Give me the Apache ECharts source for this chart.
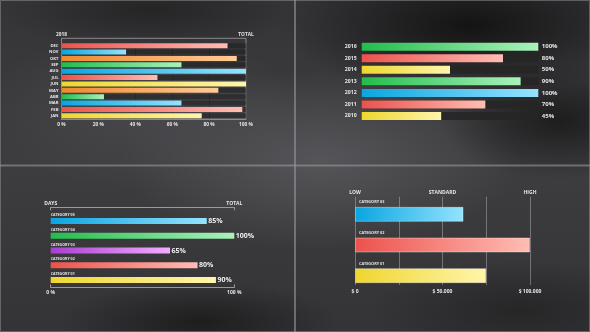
<!DOCTYPE html>
<html><head><meta charset="utf-8">
<script src="https://cdn.jsdelivr.net/npm/echarts@6/dist/echarts.min.js"></script>
<style>
html,body{margin:0;padding:0;width:590px;height:332px;overflow:hidden;background:#333;}
#c{width:590px;height:332px;
background:
 radial-gradient(ellipse 190px 70px at 470px 25px, rgba(18,18,18,0.95), rgba(18,18,18,0)),
 radial-gradient(ellipse 120px 60px at 560px 120px, rgba(22,22,22,0.8), rgba(22,22,22,0)),
 radial-gradient(ellipse 150px 40px at 150px 10px, rgba(30,30,30,0.7), rgba(30,30,30,0)),
 radial-gradient(ellipse 140px 40px at 200px 322px, rgba(24,24,24,0.8), rgba(24,24,24,0)),
 radial-gradient(ellipse 150px 50px at 520px 310px, rgba(28,28,28,0.6), rgba(28,28,28,0)),
 radial-gradient(ellipse 200px 90px at 320px 160px, rgba(88,88,92,0.9), rgba(88,88,92,0)),
 radial-gradient(ellipse 160px 80px at 140px 110px, rgba(74,74,78,0.85), rgba(74,74,78,0)),
 linear-gradient(180deg,#353538 0%,#3d3d40 50%,#343437 100%);
}
</style></head><body><div id="c"></div>
<script>
// ---- Panel 1 (top-left) ----
const months = ['JAN','FEB','MAR','ABR','MAY','JUN','JUL','AUG','SEP','OKT','NOV','DEC'];
const monthValues = [76,98,65,23,85,100,52,100,65,95,35,90];
const monthColors = ['yellow','red','blue','green','orange','yellow','red','blue','green','orange','blue','red'];
const pctTicks = ['0 %','20 %','40 %','60 %','80 %','100 %'];
const frame1Labels = ['2018','TOTAL'];
// ---- Panel 2 (top-right) ----
const years = ['2010','2011','2012','2013','2014','2015','2016'];
const yearValues = [45,70,100,90,50,80,100];
const yearColors = ['yellow','red','blue','green','yellow','red','green'];
// ---- Panel 3 (bottom-left) ----
const cats3 = ['CATEGORY 01','CATEGORY 02','CATEGORY 03','CATEGORY 04','CATEGORY 05'];
const cats3Values = [90,80,65,100,85];
const cats3Colors = ['yellow','red','purple','green','blue'];
const frame3Top = ['DAYS','TOTAL'];
const frame3Bottom = ['0 %','100 %'];
// ---- Panel 4 (bottom-right) ----
const cats4 = ['CATEGORY 01','CATEGORY 02','CATEGORY 03'];
const cats4Values = [75000,100000,62000];
const cats4Colors = ['yellow','red','blue'];
const levelTicks = ['LOW','','STANDARD','','HIGH'];
const moneyTicks = ['$ 0','','$ 50.000','','$ 100.000'];

const palette = {
  red:['#ec524c','#ffbdb4'], blue:['#09a6e0','#95e3ff'], green:['#22bd4c','#aaf2bb'],
  yellow:['#efd62e','#fff5ac'], orange:['#ef8830','#ffcc98'], purple:['#a83ed2','#f4acff']
};
function grad(n){return new echarts.graphic.LinearGradient(0,0,1,0,[{offset:0,color:palette[n][0]},{offset:1,color:palette[n][1]}]);}
function items(vals,cols,extra){return vals.map((v,i)=>({value:v,itemStyle:Object.assign({color:grad(cols[i])},extra||{})}));}

const F = '"Open Sans", "DejaVu Sans", sans-serif';
const lab = (size,extra)=>Object.assign({color:'#e6e6e6',fontSize:size,fontWeight:'bold',fontFamily:F},extra||{});
const hidden = {show:false};

const chart = echarts.init(document.getElementById('c'),null,{renderer:'canvas'});
chart.setOption({
  animation:false,
  backgroundColor:'transparent',
  grid:[
    {left:61.5,right:344,top:38.3,bottom:213,show:true,borderColor:'#8a8a8c',borderWidth:1,backgroundColor:'transparent'},
    {left:61.5,right:344,top:42.5,bottom:213},
    {left:361.7,right:51.7,top:40.9,bottom:210.2},
    {left:50.7,right:355.7,top:213.6,bottom:44.6},
    {left:355,right:60,top:196.7,bottom:47},
    {left:355,right:60,top:199,bottom:41}
  ],
  xAxis:[
    {gridIndex:0,type:'value',position:'top',min:0,max:100,interval:100,axisLine:hidden,axisTick:hidden,splitLine:hidden,
      axisLabel:lab(4.8,{margin:1,formatter:v=>frame1Labels[v/100]})},
    {gridIndex:1,type:'value',min:0,max:100,interval:20,axisLine:{show:true,lineStyle:{color:'#8a8a8c',width:1}},axisTick:hidden,
      splitLine:{show:true,lineStyle:{color:'rgba(0,0,0,0.18)',width:1}},
      axisLabel:lab(4.8,{margin:3,formatter:v=>pctTicks[v/20]})},
    {gridIndex:2,type:'value',min:0,max:100,show:false},
    {gridIndex:3,type:'value',min:0,max:100,interval:100,axisLine:{show:true,lineStyle:{color:'#9a9a9c',width:1}},
      axisTick:{show:true,inside:true,length:3,lineStyle:{color:'#9a9a9c'}},splitLine:hidden,
      axisLabel:lab(5,{margin:3,formatter:v=>frame3Bottom[v/100]})},
    {gridIndex:3,type:'value',position:'top',offset:6.3,min:0,max:100,interval:100,axisLine:{show:true,lineStyle:{color:'#9a9a9c',width:1}},
      axisTick:{show:true,inside:true,length:3,lineStyle:{color:'#9a9a9c'}},splitLine:hidden,
      axisLabel:lab(5,{margin:1,formatter:v=>frame3Top[v/100]})},
    {gridIndex:4,type:'value',min:0,max:100000,interval:25000,axisLine:hidden,axisTick:hidden,
      splitLine:{show:true,lineStyle:{color:'rgba(190,190,195,0.45)',width:1}},
      axisLabel:lab(5,{margin:4,formatter:v=>moneyTicks[v/25000]})},
    {gridIndex:4,type:'value',position:'top',min:0,max:100000,interval:25000,axisLine:hidden,axisTick:hidden,splitLine:hidden,
      axisLabel:lab(5,{margin:2,formatter:v=>levelTicks[v/25000]})},
    {gridIndex:5,type:'value',min:0,max:100000,show:false}
  ],
  yAxis:[
    {gridIndex:0,type:'value',min:0,max:1,show:false},
    {gridIndex:1,type:'category',data:months,axisLine:{show:true,lineStyle:{color:'#8a8a8c',width:1}},axisTick:hidden,
      axisLabel:lab(4.2,{margin:3,interval:0})},
    {gridIndex:2,type:'category',data:years,axisLine:hidden,axisTick:hidden,axisLabel:lab(5.2,{margin:5,interval:0})},
    {gridIndex:2,type:'category',data:years,position:'right',axisLine:hidden,axisTick:hidden,
      axisLabel:lab(6,{margin:3.5,interval:0,formatter:(v,i)=>yearValues[i]+'%'})},
    {gridIndex:3,type:'category',data:cats3,axisLine:hidden,axisTick:hidden,
      axisLabel:lab(3.6,{inside:true,margin:0,interval:0,verticalAlign:'bottom',padding:[0,0,4,0]})},
    {gridIndex:4,type:'value',min:0,max:1,show:false},
    {gridIndex:5,type:'category',data:cats4,axisLine:hidden,axisTick:hidden,
      axisLabel:lab(3.8,{inside:true,margin:0,interval:0,verticalAlign:'bottom',padding:[0,0,10,4]})}
  ],
  series:[
    {type:'bar',xAxisIndex:1,yAxisIndex:1,barWidth:5,data:items(monthValues,monthColors),
      showBackground:true,backgroundStyle:{color:'rgba(22,22,22,0.45)'}},
    {type:'bar',xAxisIndex:2,yAxisIndex:2,barWidth:8,data:items(yearValues,yearColors),
      showBackground:true,backgroundStyle:{color:'rgba(38,38,38,0.9)'}},
    {type:'bar',xAxisIndex:3,yAxisIndex:4,barWidth:6,data:items(cats3Values,cats3Colors),
      label:{show:true,position:'right',distance:1.5,formatter:'{c}%',color:'#f0f0f0',fontSize:7,fontWeight:'bold',fontFamily:F}},
    {type:'bar',xAxisIndex:7,yAxisIndex:6,barWidth:15,
      data:items(cats4Values,cats4Colors,{borderColor:'rgba(255,255,255,0.35)',borderWidth:1})}
  ],
  graphic:[
    {type:'line',shape:{x1:295,y1:0,x2:295,y2:332},style:{stroke:'rgba(150,150,155,0.6)',lineWidth:2},silent:true},
    {type:'line',shape:{x1:0,y1:165.5,x2:590,y2:165.5},style:{stroke:'rgba(150,150,155,0.6)',lineWidth:2},silent:true},
    {type:'rect',shape:{x:0.5,y:0.5,width:589,height:331},style:{fill:'none',stroke:'rgba(150,150,155,0.5)',lineWidth:1},silent:true}
  ]
});
</script></body></html>
